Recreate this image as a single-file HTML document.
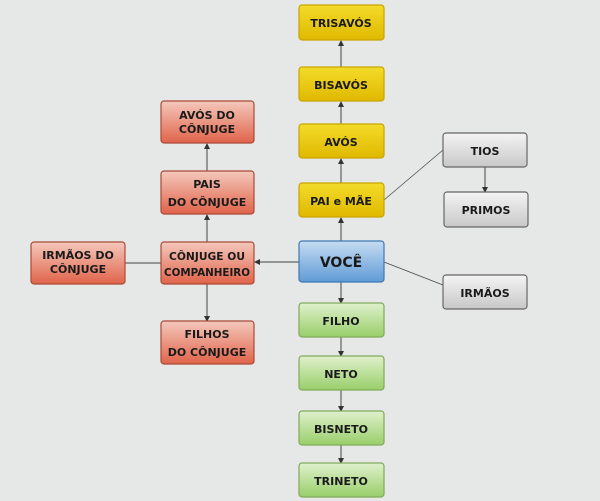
<!DOCTYPE html>
<html><head><meta charset="utf-8"><style>
body{margin:0;background:#e6e8e8;overflow:hidden;}
svg{display:block;}
text{font-family:"DejaVu Sans","Liberation Sans",sans-serif;font-weight:bold;font-size:11px;fill:#1a1a1a;text-anchor:middle;}
</style></head><body>
<svg width="600" height="501" viewBox="0 0 600 501" xmlns="http://www.w3.org/2000/svg">
<defs>
<linearGradient id="y" x1="0" y1="0" x2="0" y2="1"><stop offset="0" stop-color="#f3dc2a"/><stop offset="1" stop-color="#e0b800"/></linearGradient>
<linearGradient id="b" x1="0" y1="0" x2="0" y2="1"><stop offset="0" stop-color="#c6dcf2"/><stop offset="1" stop-color="#5f9bd6"/></linearGradient>
<linearGradient id="r" x1="0" y1="0" x2="0" y2="1"><stop offset="0" stop-color="#f4c8bc"/><stop offset="1" stop-color="#e0634a"/></linearGradient>
<linearGradient id="g" x1="0" y1="0" x2="0" y2="1"><stop offset="0" stop-color="#dff0cc"/><stop offset="1" stop-color="#99cf6a"/></linearGradient>
<linearGradient id="k" x1="0" y1="0" x2="0" y2="1"><stop offset="0" stop-color="#f4f4f4"/><stop offset="1" stop-color="#c8c8c8"/></linearGradient>
<marker id="a" markerWidth="6" markerHeight="6" refX="5" refY="3" orient="auto" markerUnits="userSpaceOnUse"><path d="M0,0 L6,3 L0,6z" fill="#333"/></marker>
</defs>
<g stroke="#444" stroke-width="1" fill="none">
<line x1="341" y1="67" x2="341" y2="41" marker-end="url(#a)"/>
<line x1="341" y1="124" x2="341" y2="102" marker-end="url(#a)"/>
<line x1="341" y1="183" x2="341" y2="159" marker-end="url(#a)"/>
<line x1="341" y1="241" x2="341" y2="218" marker-end="url(#a)"/>
<line x1="341" y1="282" x2="341" y2="303" marker-end="url(#a)"/>
<line x1="341" y1="337" x2="341" y2="356" marker-end="url(#a)"/>
<line x1="341" y1="390" x2="341" y2="411" marker-end="url(#a)"/>
<line x1="341" y1="445" x2="341" y2="463" marker-end="url(#a)"/>
<line x1="299" y1="262" x2="255" y2="262" marker-end="url(#a)"/>
<line x1="125" y1="263" x2="161" y2="263"/>
<line x1="207" y1="242" x2="207" y2="215" marker-end="url(#a)"/>
<line x1="207" y1="171" x2="207" y2="144" marker-end="url(#a)"/>
<line x1="207" y1="284" x2="207" y2="321" marker-end="url(#a)"/>
<line x1="384" y1="200" x2="443" y2="150" stroke-width="0.7"/>
<line x1="384" y1="262" x2="443" y2="285" stroke-width="0.7"/>
<line x1="485" y1="167" x2="485" y2="192" marker-end="url(#a)"/>
</g>
<g stroke-width="1.2">
<rect x="299" y="5" width="85" height="35" rx="3" fill="url(#y)" stroke="#c9a400"/>
<rect x="299" y="67" width="85" height="34" rx="3" fill="url(#y)" stroke="#c9a400"/>
<rect x="299" y="124" width="85" height="34" rx="3" fill="url(#y)" stroke="#c9a400"/>
<rect x="299" y="183" width="85" height="34" rx="3" fill="url(#y)" stroke="#c9a400"/>
<rect x="299" y="241" width="85" height="41" rx="3" fill="url(#b)" stroke="#3f78b5"/>
<rect x="299" y="303" width="85" height="34" rx="3" fill="url(#g)" stroke="#7faa5a"/>
<rect x="299" y="356" width="85" height="34" rx="3" fill="url(#g)" stroke="#7faa5a"/>
<rect x="299" y="411" width="85" height="34" rx="3" fill="url(#g)" stroke="#7faa5a"/>
<rect x="299" y="463" width="85" height="34" rx="3" fill="url(#g)" stroke="#7faa5a"/>
<rect x="161" y="101" width="93" height="42" rx="3" fill="url(#r)" stroke="#a94a36"/>
<rect x="161" y="171" width="93" height="43" rx="3" fill="url(#r)" stroke="#a94a36"/>
<rect x="161" y="242" width="93" height="42" rx="3" fill="url(#r)" stroke="#a94a36"/>
<rect x="161" y="321" width="93" height="43" rx="3" fill="url(#r)" stroke="#a94a36"/>
<rect x="31" y="242" width="94" height="42" rx="3" fill="url(#r)" stroke="#a94a36"/>
<rect x="443" y="133" width="84" height="34" rx="3" fill="url(#k)" stroke="#666"/>
<rect x="444" y="192" width="84" height="35" rx="3" fill="url(#k)" stroke="#666"/>
<rect x="443" y="275" width="84" height="34" rx="3" fill="url(#k)" stroke="#666"/>
</g>
<text x="341" y="27">TRISAVÓS</text>
<text x="341" y="89">BISAVÓS</text>
<text x="341" y="146">AVÓS</text>
<text x="341" y="205">PAI e MÃE</text>
<text x="341" y="267" style="font-size:14px">VOCÊ</text>
<text x="341" y="325">FILHO</text>
<text x="341" y="378">NETO</text>
<text x="341" y="433">BISNETO</text>
<text x="341" y="485">TRINETO</text>
<text x="207" y="119">AVÓS DO</text><text x="207" y="133">CÔNJUGE</text>
<text x="207" y="188">PAIS</text><text x="207" y="206">DO CÔNJUGE</text>
<text x="207" y="260" textLength="76" lengthAdjust="spacingAndGlyphs">CÔNJUGE OU</text><text x="207" y="276" textLength="86" lengthAdjust="spacingAndGlyphs">COMPANHEIRO</text>
<text x="207" y="338">FILHOS</text><text x="207" y="356">DO CÔNJUGE</text>
<text x="78" y="259">IRMÃOS DO</text><text x="78" y="273">CÔNJUGE</text>
<text x="485" y="155">TIOS</text>
<text x="486" y="214">PRIMOS</text>
<text x="485" y="297">IRMÃOS</text>
</svg>
</body></html>
